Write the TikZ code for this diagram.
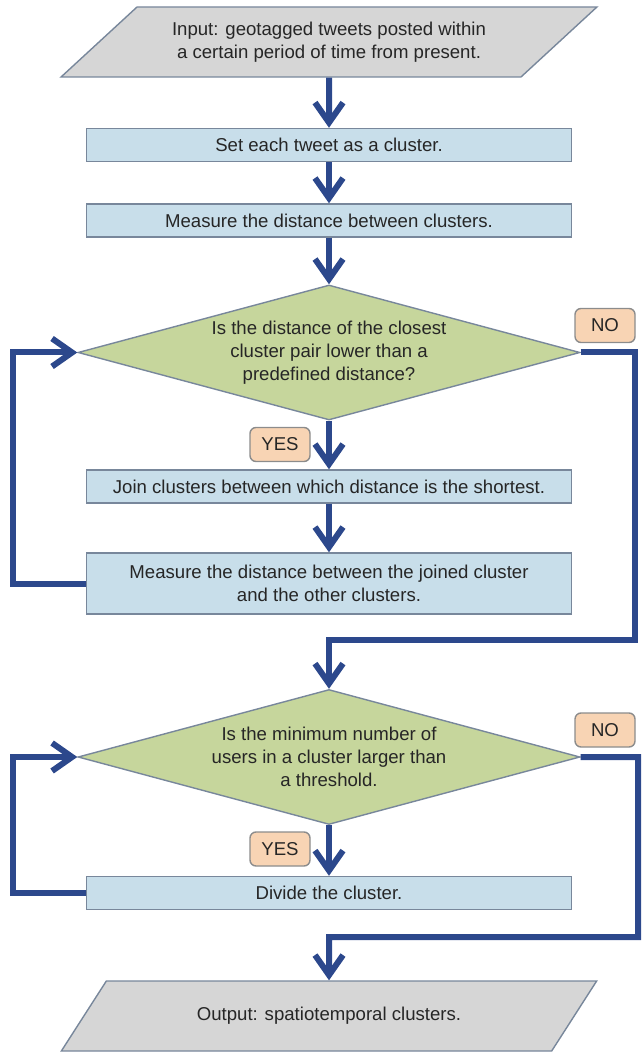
\documentclass[tikz,border=0pt]{standalone}
\usepackage{fontspec}
\setmainfont{Liberation Sans}
\usetikzlibrary{shapes.geometric,arrows.meta}

\definecolor{flowblue}{RGB}{44,72,140}
\definecolor{boxblue}{RGB}{200,222,234}
\definecolor{boxedge}{RGB}{120,135,155}
\definecolor{decgreen}{RGB}{198,214,156}
\definecolor{iogray}{RGB}{214,214,214}
\definecolor{tagpeach}{RGB}{248,212,180}

\begin{document}
\begin{tikzpicture}[x=0.5pt, y=-0.5pt,
	every node/.style={font=\fontsize{9.3}{11.5}\selectfont, text=black!85, align=center, inner sep=0pt},
	process/.style={rectangle, draw=boxedge, line width=0.7pt, fill=boxblue, minimum width=242.5pt, minimum height=16.5pt},
	decision/.style={diamond, draw=boxedge, line width=0.7pt, fill=decgreen, minimum width=251pt, minimum height=67.5pt, aspect=3.7},
	inout/.style={trapezium, trapezium left angle=33, trapezium right angle=147, trapezium stretches=true, draw=boxedge, line width=0.7pt, fill=iogray, minimum width=268pt, minimum height=35pt},
	answer/.style={rectangle, rounded corners=3pt, draw=black!45, line width=0.7pt, fill=tagpeach, minimum width=30pt, minimum height=17pt},
	flow/.style={draw=flowblue, line width=3pt, -{Straight Barb[length=10pt, width=14pt]}}
	]
	\useasboundingbox (0,0) rectangle (641,1052);

	% rails for the loops
	\coordinate (rail) at (13,0);
	\coordinate (railR) at (635,0);
	\coordinate (railRR) at (638,0);
	\coordinate (join1) at (329,640);
	\coordinate (join2) at (329,937);

	% first part
	\node[inout] (in) at (329,42) {Input: geotagged tweets posted within\\a certain period of time from present.};
	\node[process] (set) at (329,145) {Set each tweet as a cluster.};
	\node[process] (meas) at (329,220.5) {Measure the distance between clusters.};
	\node[decision] (close) at (329,352.5) {Is the distance of the closest\\cluster pair lower than a\\predefined distance?};
	\node[answer] (yes1) at (280,444.5) {YES};
	\node[answer] (no1) at (605,325.5) {NO};
	\node[process] (join) at (329,486.5) {Join clusters between which distance is the shortest.};
	\node[process, minimum height=30.5pt] (remeas) at (329,583.5) {Measure the distance between the joined cluster\\and the other clusters.};

	% second part
	\node[decision] (users) at (329,757) {Is the minimum number of\\users in a cluster larger than\\a threshold.};
	\node[answer] (yes2) at (280,849) {YES};
	\node[answer] (no2) at (605,730) {NO};
	\node[process] (divide) at (329,893) {Divide the cluster.};
	\node[inout] (out) at (329,1016) {Output: spatiotemporal clusters.};

	% arrows
	\draw[flow] (in) -- (set);
	\draw[flow] (set) -- (meas);
	\draw[flow] (meas) -- (close);
	\draw[flow] (close) -- (join);
	\draw[flow] (join) -- (remeas);
	\draw[flow] (remeas.west) -- (remeas.west -| rail) |- (close.west);
	\draw[flow] (close.east) -| (join1 -| railR) -- (join1) -- (users);
	\draw[flow] (users) -- (divide);
	\draw[flow] (divide.west) -- (divide.west -| rail) |- (users.west);
	\draw[flow] (users.east) -| (join2 -| railRR) -- (join2) -- (out);
\end{tikzpicture}
\end{document}
